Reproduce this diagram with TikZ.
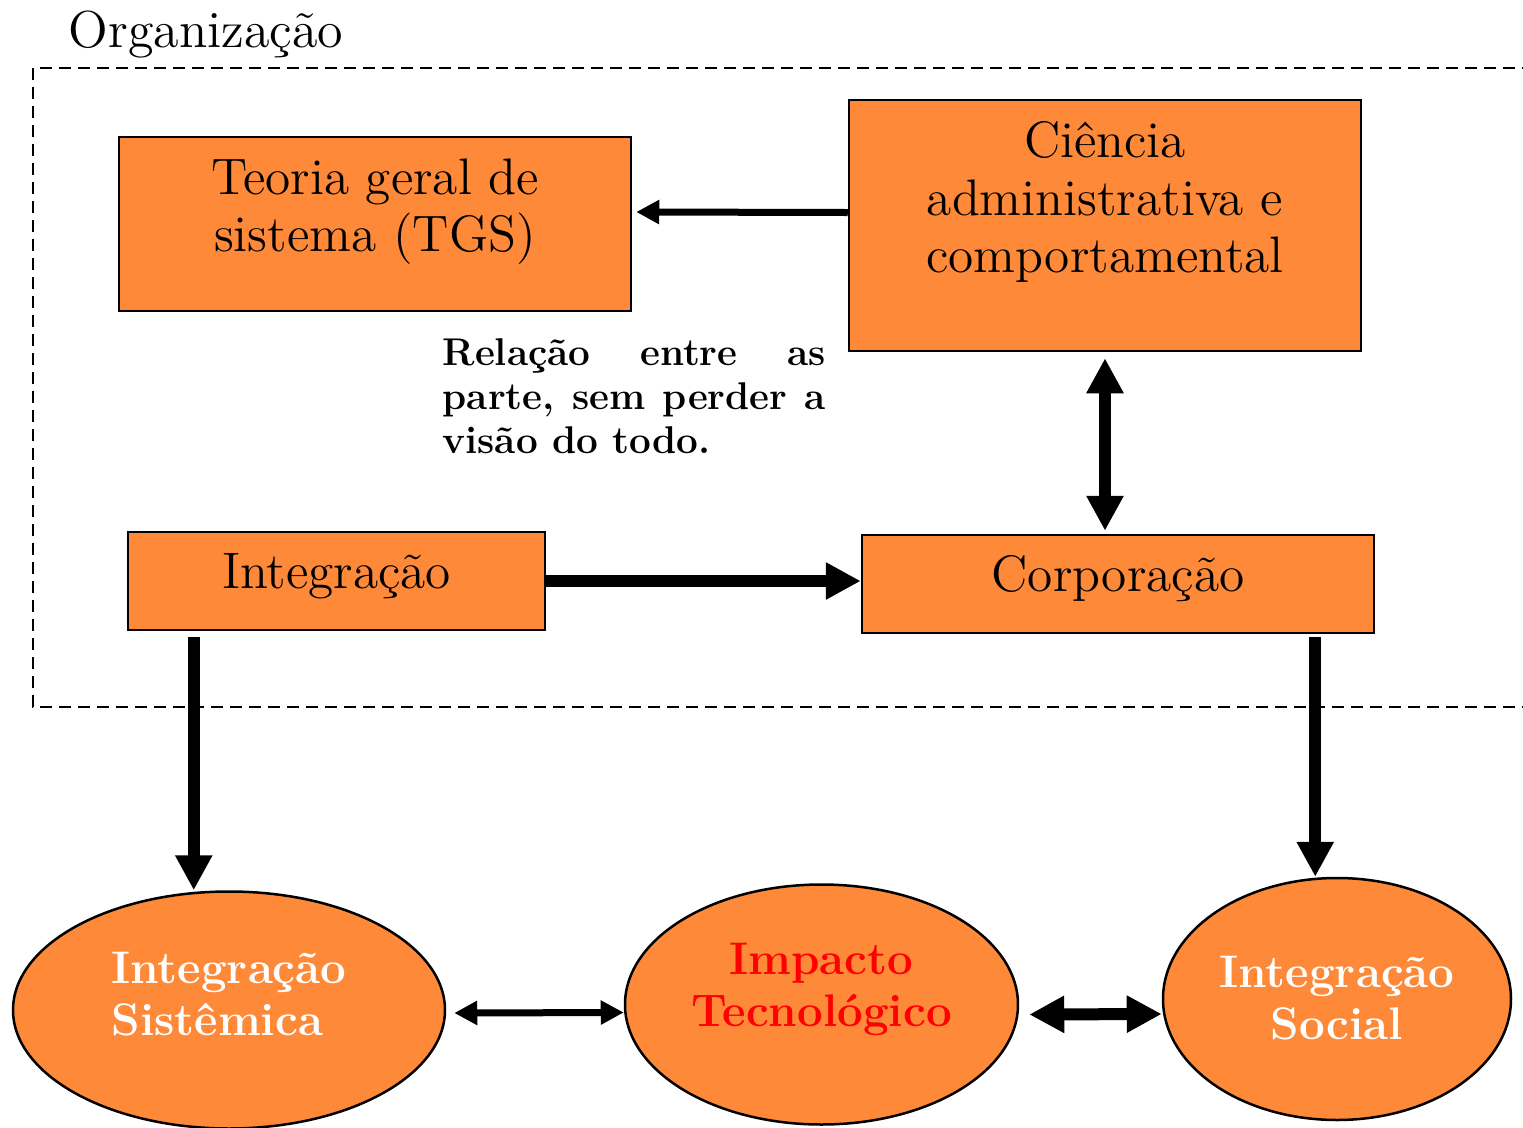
\documentclass[tikz,border=0pt]{standalone}
\usepackage{fontspec}
\usepackage{xcolor}
\usepackage{tikz}
\usetikzlibrary{shapes.geometric, arrows.meta, positioning}
\definecolor{boxorange}{RGB}{253,137,57}

\begin{document}
\begin{tikzpicture}[
    box/.style={rectangle, draw=black, fill=boxorange, line width=0.025cm, align=center, font=\fontsize{14.6}{16.3}\selectfont},
    bubble/.style={ellipse, draw=black, fill=boxorange, line width=0.025cm, inner sep=0pt, align=center, font=\fontsize{13}{14.7}\selectfont\bfseries, text=white},
    note/.style={text width=3.83cm, align=justify, inner sep=0pt, font=\fontsize{11}{12.5}\selectfont\bfseries},
    frame/.style={line width=0.025cm, dash pattern=on 0.12cm off 0.07cm},
    bigline/.style={line width=0.12cm, >={Triangle[length=0.35cm, width=0.35cm]}},
    smallline/.style={line width=0.07cm, >={Triangle[length=0.23cm, width=0.23cm]}}
]
\useasboundingbox (0,0) rectangle (15.23,-11.28);

% Organization frame
\node[anchor=base west, inner sep=0pt, font=\fontsize{14.8}{16}\selectfont] (orgtitle) at (0.68,-0.47) {Organização};
\draw[frame] (0.33,-0.68) rectangle (15.6,-7.07);

% Upper boxes
\node[box, minimum width=5.12cm, minimum height=1.74cm, text depth=0.38cm] (tgs) at (3.75,-2.24) {Teoria geral de\\sistema (TGS)};
\node[box, minimum width=5.12cm, minimum height=2.51cm, text depth=0.57cm] (cien) at (11.05,-2.255) {Ciência\\administrativa e\\comportamental};

% Note
\node[note, anchor=north west] (relnote) at (4.42,-3.38) {Relação entre as\linebreak parte, sem perder a\linebreak visão do todo.};

% Lower boxes
\node[box, minimum width=4.17cm, minimum height=0.98cm, text height=0.35cm, text depth=0.20cm] (integ) at (3.365,-5.81) {Integração};
\node[box, minimum width=5.12cm, minimum height=0.98cm, text height=0.35cm, text depth=0.20cm] (corp) at (11.18,-5.84) {Corporação};

% Outcomes
\node[bubble, align=left, minimum width=4.32cm, minimum height=2.37cm, text depth=0.32cm] (sist) at (2.29,-10.1) {Integração\\Sistêmica};
\node[bubble, text=red, minimum width=3.93cm, minimum height=2.40cm, text depth=0.39cm] (imp) at (8.215,-10.045) {Impacto\\Tecnológico};
\node[bubble, minimum width=3.48cm, minimum height=2.42cm, text depth=0.03cm] (soc) at (13.37,-9.99) {Integração\\Social};

% Arrows
\coordinate (integout) at ([xshift=0.67cm]integ.south west);
\coordinate (corpout) at ([xshift=-0.60cm]corp.south east);
\draw[smallline, ->] ([yshift=0.13cm]cien.west) -- ([xshift=0.04cm, yshift=0.12cm]tgs.east);
\draw[bigline, <->, shorten <=0.06cm, shorten >=0.03cm] (cien.south) -- (cien.south |- corp.north);
\draw[bigline, ->] (integ.east) -- (integ.east -| corp.west);
\draw[bigline, ->, shorten <=0.06cm] (integout) -- (integout |- sist.north);
\draw[bigline, ->, shorten <=0.03cm] (corpout) -- (corpout |- soc.north);
\draw[smallline, <->] ([xshift=0.08cm, yshift=-0.03cm]sist.east) -- ([yshift=-0.08cm]imp.west);
\draw[bigline, <->] ([xshift=0.1cm, yshift=-0.1cm]imp.east) -- ([yshift=-0.15cm]soc.west);

\end{tikzpicture}
\end{document}
